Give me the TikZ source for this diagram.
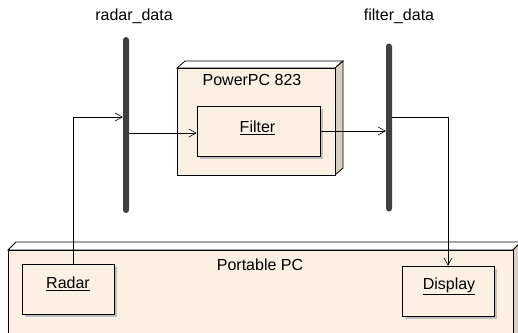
\documentclass[tikz,border=0pt]{standalone}
\usepackage{fontspec}
\setmainfont{Liberation Sans}
\usetikzlibrary{arrows.meta,shadows}
\definecolor{beige}{HTML}{FBF0E2}
\definecolor{sideface}{HTML}{D8CEC1}
\definecolor{bargray}{HTML}{404040}
\tikzset{
  lbl/.style={font=\fontsize{16}{19}\selectfont, inner sep=0pt},
  bar/.style={fill=bargray, draw=none, rounded corners=3pt, minimum width=6pt, inner sep=0pt},
  part/.style={draw=black, line width=0.8pt, fill=beige, inner sep=0pt,
    drop shadow={shadow xshift=3pt, shadow yshift=-3pt, fill=black!25, opacity=1}},
  flow/.style={draw=black, line width=0.6pt, -{Straight Barb[length=7pt,width=8pt,line width=0.6pt]}},
  face/.style={draw=black, line width=0.8pt},
}
\begin{document}
\begin{tikzpicture}[x=1pt,y=-1pt]
\useasboundingbox (0,0) rectangle (518,332);
% Portable PC node (3D box)
\filldraw[face, fill=white] (8,250) -- (16,242) -- (521,242) -- (513,250) -- cycle;
\filldraw[face, fill=sideface] (513,250) -- (521,242) -- (521,340) -- (513,340) -- cycle;
\filldraw[face, fill=beige] (8,250) rectangle (513,340);
\node[lbl] (pclbl) at (260,265) {Portable PC};
% PowerPC 823 node
\filldraw[face, fill=white] (177,68) -- (185,61) -- (343,61) -- (335,68) -- cycle;
\filldraw[face, fill=sideface] (335,68) -- (343,61) -- (343,168) -- (335,175) -- cycle;
\filldraw[face, fill=beige] (177,68) rectangle (335,175);
\node[lbl] (ppclbl) at (252,80) {PowerPC 823};
% bars
\node[bar, minimum height=176pt] (rb) at (126,125) {};
\node[bar, minimum height=168pt] (fb) at (389,127.5) {};
\node[lbl] (rbl) at (134,16) {radar\_data};
\node[lbl] (fbl) at (399,16) {filter\_data};
% parts
\node[part, minimum width=123pt, minimum height=50pt] (filter) at (258.5,131) {};
\node[lbl] (filtertxt) at (257.5,128) {\underline{Filter}};
\node[part, minimum width=92pt, minimum height=50pt] (radar) at (68,289) {};
\node[lbl] (radartxt) at (68,284) {\underline{Radar}};
\node[part, minimum width=92pt, minimum height=50pt] (display) at (448,291) {};
\node[lbl] (displaytxt) at (449,286) {\underline{Display}};
% connectors
\draw[flow] ([xshift=5pt]radar.north) |- (rb.west |- 0,117);
\draw[flow] (rb.east |- 0,133) -- (filter.west |- 0,133);
\draw[flow] (filter.east |- 0,131) -- (fb.west |- 0,131);
\draw[flow] (fb.east |- 0,117) -| (display.north);
\end{tikzpicture}
\end{document}
